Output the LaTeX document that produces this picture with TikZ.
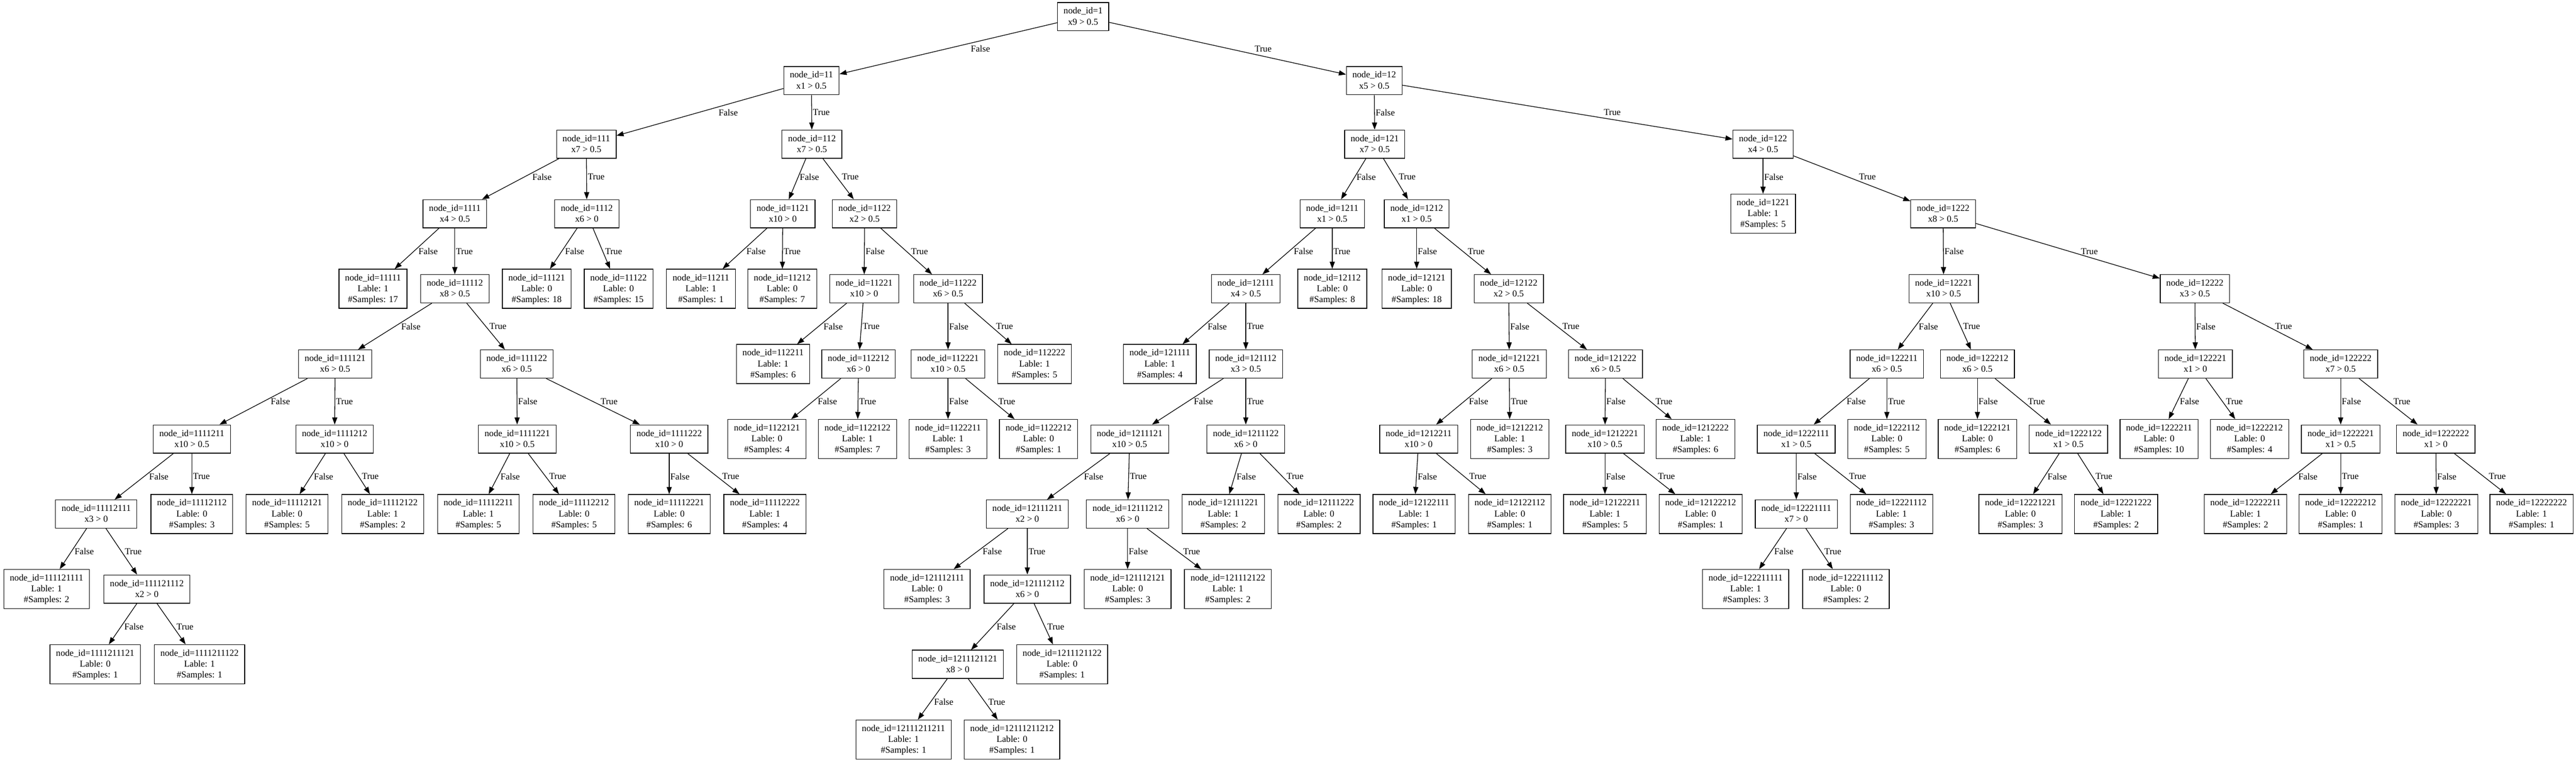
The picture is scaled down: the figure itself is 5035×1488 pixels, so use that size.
\documentclass[tikz,border=0pt]{standalone}
\usepackage{fontspec}
\setmainfont{Liberation Serif}
\usetikzlibrary{arrows.meta,calc}
\newcommand\nfont{\fontsize{17.8}{21.36}\selectfont}
\newcommand\gs{\rule[-5.5pt]{0pt}{21.36pt}}
\tikzset{
  tn/.style={draw, line width=1.3pt, rectangle, align=center, font=\nfont,
             inner xsep=11.85pt, inner ysep=6.2pt},
  elab/.style={font=\nfont, inner sep=0pt, anchor=west},
  conn/.style={draw, line width=1.3pt, -{Triangle[length=14pt,width=10pt]}}
}
\newcommand\IN[4]{\node[tn] (n#1) at (#2,#3) {\gs node\_id=#1\\\gs #4};}
\newcommand\LF[5]{\node[tn] (n#1) at (#2,#3) {\gs node\_id=#1\\\gs Lable: #4\\\gs \#Samples: #5};}
\newcommand\E[4][]{%
  \draw[conn] (n#2) -- (n#3);
  \path let \p1=(n#2.center), \p2=(n#3.center),
        \n1={abs(\x2-\x1)/abs(\y2-\y1)} in
    node[elab,#1] at ({0.5*(\x1+\x2)+6.3pt*\n1+2pt},{0.5*(\y1+\y2)}) {#4};}
\newcommand\EE[1]{\E{#1}{#11}{False}\E{#1}{#12}{True}}
\begin{document}
\begin{tikzpicture}[x=1pt,y=-1pt]
\useasboundingbox[fill=white] (0,0) rectangle (5035,1488);
% internal nodes
\IN{1}{2117}{32.5}{x9 > 0.5}
\IN{11}{1586}{157.5}{x1 > 0.5}
\IN{12}{2686}{157.5}{x5 > 0.5}
\IN{111}{1146}{281.5}{x7 > 0.5}
\IN{112}{1587}{281.5}{x7 > 0.5}
\IN{121}{2687}{281.5}{x7 > 0.5}
\IN{122}{3446}{281.5}{x4 > 0.5}
\IN{1111}{889}{417.5}{x4 > 0.5}
\IN{1112}{1147}{417.5}{x6 > 0}
\IN{1121}{1530}{417.5}{x10 > 0}
\IN{1122}{1690}{417.5}{x2 > 0.5}
\IN{1211}{2604}{417.5}{x1 > 0.5}
\IN{1212}{2769}{417.5}{x1 > 0.5}
\IN{1222}{3798}{417.5}{x8 > 0.5}
\IN{11112}{889}{564}{x8 > 0.5}
\IN{11221}{1689}{564}{x10 > 0}
\IN{11222}{1853}{564}{x6 > 0.5}
\IN{12111}{2435}{564}{x4 > 0.5}
\IN{12122}{2949}{564}{x2 > 0.5}
\IN{12221}{3799}{564}{x10 > 0.5}
\IN{12222}{4290}{564}{x3 > 0.5}
\IN{111121}{655}{711}{x6 > 0.5}
\IN{111122}{1010}{711}{x6 > 0.5}
\IN{112212}{1678}{711}{x6 > 0}
\IN{112221}{1853}{711}{x10 > 0.5}
\IN{121112}{2435}{711}{x3 > 0.5}
\IN{121221}{2950}{711}{x6 > 0.5}
\IN{121222}{3138}{711}{x6 > 0.5}
\IN{122211}{3688}{711}{x6 > 0.5}
\IN{122212}{3865}{711}{x6 > 0.5}
\IN{122221}{4291}{711}{x1 > 0}
\IN{122222}{4575}{711}{x7 > 0.5}
\IN{1111211}{375}{857.5}{x10 > 0.5}
\IN{1111212}{654}{857.5}{x10 > 0}
\IN{1111221}{1011}{857.5}{x10 > 0.5}
\IN{1111222}{1308}{857.5}{x10 > 0}
\IN{1211121}{2208}{857.5}{x10 > 0.5}
\IN{1211122}{2435}{857.5}{x6 > 0}
\IN{1212211}{2773}{857.5}{x10 > 0}
\IN{1212221}{3137}{857.5}{x10 > 0.5}
\IN{1222111}{3511}{857.5}{x1 > 0.5}
\IN{1222122}{4043}{857.5}{x1 > 0.5}
\IN{1222221}{4575}{857.5}{x1 > 0.5}
\IN{1222222}{4761}{857.5}{x1 > 0}
\IN{11112111}{188}{1004}{x3 > 0}
\IN{12111211}{2008}{1004}{x2 > 0}
\IN{12111212}{2204}{1004}{x6 > 0}
\IN{12221111}{3511}{1004}{x7 > 0}
\IN{111121112}{287}{1150.5}{x2 > 0}
\IN{121112112}{2008}{1150.5}{x6 > 0}
\IN{1211121121}{1872}{1297.5}{x8 > 0}
% leaves
\LF{1221}{3446}{417.5}{1}{5}
\LF{11111}{729}{564}{1}{17}
\LF{11121}{1049}{564}{0}{18}
\LF{11122}{1209}{564}{0}{15}
\LF{11211}{1370}{564}{1}{1}
\LF{11212}{1529}{564}{0}{7}
\LF{12112}{2604}{564}{0}{8}
\LF{12121}{2769}{564}{0}{18}
\LF{112211}{1511}{711}{1}{6}
\LF{112222}{2022}{711}{1}{5}
\LF{121111}{2267}{711}{1}{4}
\LF{1122121}{1499}{857.5}{0}{4}
\LF{1122122}{1676}{857.5}{1}{7}
\LF{1122211}{1853}{857.5}{1}{3}
\LF{1122212}{2030}{857.5}{0}{1}
\LF{1212212}{2951}{857.5}{1}{3}
\LF{1212222}{3314}{857.5}{1}{6}
\LF{1222112}{3688}{857.5}{0}{5}
\LF{1222121}{3865}{857.5}{0}{6}
\LF{1222211}{4220}{857.5}{0}{10}
\LF{1222212}{4397}{857.5}{0}{4}
\LF{11112112}{375}{1004}{0}{3}
\LF{11112121}{561}{1004}{0}{5}
\LF{11112122}{748}{1004}{1}{2}
\LF{11112211}{935}{1004}{1}{5}
\LF{11112212}{1122}{1004}{0}{5}
\LF{11112221}{1308}{1004}{0}{6}
\LF{11112222}{1495}{1004}{1}{4}
\LF{12111221}{2391}{1004}{1}{2}
\LF{12111222}{2578}{1004}{0}{2}
\LF{12122111}{2764}{1004}{1}{1}
\LF{12122112}{2951}{1004}{0}{1}
\LF{12122211}{3137}{1004}{1}{5}
\LF{12122212}{3324}{1004}{0}{1}
\LF{12221112}{3697}{1004}{1}{3}
\LF{12221221}{3949}{1004}{0}{3}
\LF{12221222}{4136}{1004}{1}{2}
\LF{12222211}{4389}{1004}{1}{2}
\LF{12222212}{4575}{1004}{0}{1}
\LF{12222221}{4762}{1004}{0}{3}
\LF{12222222}{4948}{1004}{1}{1}
\LF{111121111}{91}{1150.5}{1}{2}
\LF{121112111}{1812}{1150.5}{0}{3}
\LF{121112121}{2204}{1150.5}{0}{3}
\LF{121112122}{2400}{1150.5}{1}{2}
\LF{122211111}{3412}{1150.5}{1}{3}
\LF{122211112}{3608}{1150.5}{0}{2}
\LF{1111211121}{186}{1297.5}{0}{1}
\LF{1111211122}{390}{1297.5}{1}{1}
\LF{1211121122}{2076}{1297.5}{0}{1}
\LF{12111211211}{1766}{1444.5}{1}{1}
\LF{12111211212}{1978}{1444.5}{0}{1}
% edges
\E[xshift=17pt]{1}{11}{False}
\E[xshift=20pt]{1}{12}{True}
\E[xshift=14pt]{11}{111}{False}
\E{11}{112}{True}
\E{12}{121}{False}
\E[xshift=28pt]{12}{122}{True}
\E[xshift=9pt,yshift=4pt]{111}{1111}{False}
\E[yshift=4pt]{111}{1112}{True}
\E[yshift=4pt]{112}{1121}{False}
\E[yshift=4pt]{112}{1122}{True}
\E[yshift=4pt]{121}{1211}{False}
\E[yshift=4pt]{121}{1212}{True}
\E[yshift=4pt]{122}{1221}{False}
\E[xshift=-7pt,yshift=4pt]{122}{1222}{True}
\EE{1111}\EE{1112}\EE{1121}\EE{1122}\EE{1211}\EE{1212}\EE{1222}
\EE{11112}\EE{11221}\EE{11222}\EE{12111}\EE{12122}\EE{12221}\EE{12222}
\EE{111121}\EE{111122}\EE{112212}\EE{112221}\EE{121112}\EE{121221}
\EE{121222}\EE{122211}\EE{122212}\EE{122221}\EE{122222}
\EE{1111211}\EE{1111212}\EE{1111221}\EE{1111222}\EE{1211121}\EE{1211122}
\EE{1212211}\EE{1212221}\EE{1222111}\EE{1222122}\EE{1222221}\EE{1222222}
\EE{11112111}\EE{12111211}\EE{12111212}\EE{12221111}
\EE{111121112}\EE{121112112}\EE{1211121121}
\end{tikzpicture}
\end{document}
